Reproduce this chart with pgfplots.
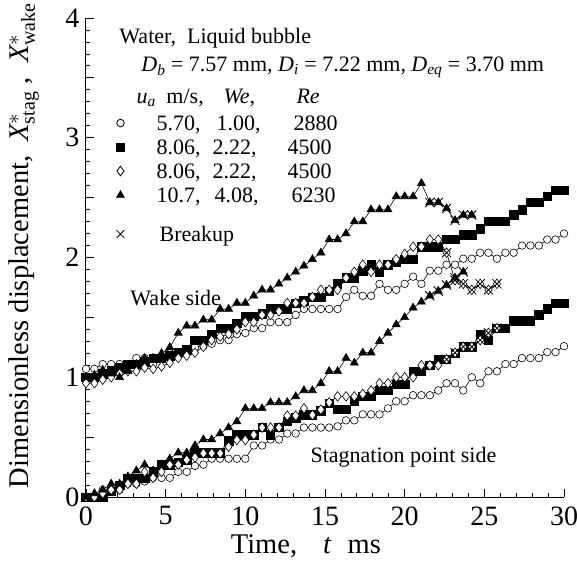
\documentclass[border=0pt]{standalone}
\usepackage{fontspec}
\setmainfont{Liberation Serif}
\usepackage{pgfplots}
\pgfplotsset{compat=1.18}
\usepackage{pgfplotstable}

% circles: u_a = 5.70 m/s
\pgfplotstableread{
t w s
0 1.07 0.00
0.53 1.07 0.00
1.05 1.11 0.06
1.58 1.11 0.06
2.11 1.11 0.06
2.63 1.11 0.11
3.16 1.16 0.11
3.68 1.16 0.13
4.21 1.11 0.16
4.74 1.16 0.16
5.26 1.20 0.16
5.79 1.20 0.21
6.32 1.21 0.21
6.84 1.25 0.26
7.37 1.26 0.27
7.89 1.28 0.32
8.42 1.31 0.32
8.95 1.31 0.32
9.47 1.36 0.32
10.00 1.37 0.32
10.53 1.41 0.43
11.05 1.41 0.43
11.58 1.46 0.48
12.11 1.46 0.48
12.63 1.46 0.53
13.16 1.52 0.53
13.68 1.57 0.58
14.21 1.57 0.58
14.74 1.57 0.58
15.26 1.57 0.58
15.79 1.57 0.59
16.32 1.67 0.64
16.84 1.73 0.64
17.37 1.68 0.69
17.89 1.68 0.69
18.42 1.78 0.69
18.95 1.73 0.74
19.47 1.73 0.80
20.00 1.78 0.80
20.53 1.84 0.85
21.05 1.78 0.85
21.58 1.89 0.85
22.11 1.89 0.89
22.63 1.94 0.95
23.16 1.94 0.95
23.68 1.99 0.89
24.21 1.99 1.00
24.74 2.04 0.95
25.26 2.04 1.05
25.79 1.99 1.05
26.32 2.04 1.11
26.84 2.04 1.11
27.37 2.10 1.16
27.89 2.10 1.16
28.42 2.10 1.16
28.95 2.15 1.21
29.47 2.15 1.21
30.00 2.20 1.26
}\tabA

% filled squares: u_a = 8.06 m/s
\pgfplotstableread{
t w s
0 1.00 0.00
0.53 1.00 0.00
1.05 1.03 0.00
1.58 1.055 0.05
2.11 1.08 0.10
2.63 1.11 0.156
3.16 1.11 0.156
3.68 1.13 0.156
4.21 1.16 0.21
4.74 1.16 0.27
5.26 1.18 0.27
5.79 1.21 0.29
6.32 1.23 0.31
6.84 1.31 0.37
7.37 1.31 0.37
7.89 1.36 0.37
8.42 1.41 0.37
8.95 1.41 0.47
9.47 1.45 0.52
10.00 1.51 0.52
10.53 1.51 0.52
11.05 1.53 0.58
11.58 1.57 0.52
12.11 1.57 0.58
12.63 1.57 0.63
13.16 1.62 0.66
13.68 1.64 0.685
14.21 1.67 0.685
14.74 1.67 0.72
15.26 1.72 0.78
15.79 1.78 0.73
16.32 1.83 0.73
16.84 1.83 0.80
17.37 1.89 0.84
17.89 1.94 0.84
18.42 1.88 0.89
18.95 1.94 0.89
19.47 1.96 0.94
20.00 1.985 0.94
20.53 1.985 1.05
21.05 2.09 1.05
21.58 2.09 1.10
22.11 2.09 1.15
22.63 2.15 1.15
23.16 2.15 1.20
23.68 2.19 1.255
24.21 2.19 1.255
24.74 2.24 1.36
25.26 2.30 1.31
25.79 2.30 1.41
26.32 2.30 1.41
26.84 2.355 1.47
27.37 2.40 1.47
27.89 2.46 1.47
28.42 2.46 1.52
28.95 2.51 1.57
29.47 2.56 1.62
30.00 2.56 1.62
}\tabB

% open diamonds: u_a = 8.06 m/s
\pgfplotstableread{
t w s
0 0.95 0.00
0.53 0.95 0.00
1.05 0.98 0.03
1.58 1.00 0.06
2.11 1.03 0.06
2.63 1.05 0.11
3.16 1.05 0.11
3.68 1.08 0.21
4.21 1.07 0.16
4.74 1.09 0.21
5.26 1.12 0.27
5.79 1.16 0.27
6.32 1.18 0.31
6.84 1.205 0.33
7.37 1.255 0.365
7.89 1.31 0.365
8.42 1.34 0.365
8.95 1.36 0.42
9.47 1.40 0.476
10.00 1.46 0.476
10.53 1.46 0.52
11.05 1.52 0.58
11.58 1.52 0.58
12.11 1.55 0.58
12.63 1.62 0.68
13.16 1.62 0.68
13.68 1.62 0.74
14.21 1.67 0.685
14.74 1.73 0.73
15.26 1.73 0.79
15.79 1.73 0.84
16.32 1.83 0.84
16.84 1.88 0.84
17.37 1.94 0.86
17.89 1.88 0.89
18.42 1.94 0.95
18.95 1.94 0.95
19.47 1.985 1.00
20.00 2.03 1.00
20.53 2.09 1.00
21.05 2.09 1.10
21.58 2.15 1.10
22.11 2.15 1.10
22.63 2.04 1.15
23.16 1.81 1.205
23.68 1.78 1.255
24.21 1.73 1.255
24.74 1.78 1.31
25.26 1.73 1.37
25.79 1.78 1.41
}\tabC

% filled triangles: u_a = 10.7 m/s
\pgfplotstableread{
t w s
0 1.00 0.00
0.53 1.02 0.03
1.05 1.06 0.06
1.58 1.03 0.11
2.11 1.00 0.11
2.63 1.05 0.17
3.16 1.11 0.22
3.68 1.16 0.27
4.21 1.16 0.22
4.74 1.20 0.27
5.26 1.25 0.32
5.79 1.37 0.37
6.32 1.43 0.37
6.84 1.43 0.43
7.37 1.48 0.48
7.89 1.48 0.48
8.42 1.57 0.53
8.95 1.57 0.58
9.47 1.62 0.63
10.00 1.62 0.74
10.53 1.68 0.74
11.05 1.73 0.74
11.58 1.73 0.79
12.11 1.78 0.79
12.63 1.83 0.79
13.16 1.88 0.84
13.68 1.93 0.89
14.21 1.985 0.89
14.74 2.04 0.95
15.26 2.15 1.05
15.79 2.15 1.05
16.32 2.20 1.16
16.84 2.30 1.12
17.37 2.30 1.205
17.89 2.40 1.205
18.42 2.40 1.30
18.95 2.40 1.37
19.47 2.51 1.44
20.00 2.51 1.50
20.53 2.51 1.58
21.05 2.62 1.63
21.58 2.46 1.68
22.11 2.46 1.72
22.63 2.41 1.77
23.16 2.31 1.83
23.68 2.355 1.88
24.21 2.355 nan
}\tabD

% breakup points
\pgfplotstableread{
t y
21.58 2.46
22.11 2.46
22.63 2.41
23.16 2.31
23.68 2.355
24.21 2.355
21.58 1.68
22.11 1.72
22.63 1.77
23.16 1.83
23.68 1.88
22.63 2.04
23.16 1.81
23.68 1.78
24.21 1.73
24.74 1.78
25.26 1.73
25.79 1.78
22.63 1.15
23.16 1.205
23.68 1.255
24.21 1.255
24.74 1.31
25.26 1.37
25.79 1.41
}\tabX

\pgfplotsset{
  single mark legend/.style={legend image code/.code={\draw[##1] plot coordinates {(0pt,0pt)};}},
  ser/.style={black, line width=0.6pt, mark options={solid, line width=0.8pt}},
}

\begin{document}
\begin{tikzpicture}
\begin{axis}[
  scale only axis, width=478pt, height=479pt,
  xmin=0, xmax=30, ymin=0, ymax=4,
  axis lines=left,
  axis line style={line width=1pt, -},
  xtick={0,5,10,15,20,25,30}, minor x tick num=4,
  ytick={0,0.5,1,1.5,2,2.5,3,3.5,4}, yticklabels={0,,1,,2,,3,,4}, minor y tick num=4,
  tick align=inside, major tick length=8pt, minor tick length=4pt,
  tick style={black, line width=0.8pt},
  ticklabel style={font=\fontsize{28}{28}\selectfont},
  xticklabel style={yshift=-6pt, text depth=0pt},
  yticklabel style={xshift=-3pt},
  /pgf/number format/assume math mode=true,
  xlabel={Time,\hspace{26pt}\textit{t}\hspace{16pt}ms},
  ylabel={Dimensionless displacement,\ \ $\mathit{X}^{*}_{\mathrm{stag}}$ ,\ \ $\mathit{X}^{*}_{\mathrm{wake}}$},
  label style={font=\fontsize{28.5}{30}\selectfont},
  xlabel style={at={(axis description cs:0.46,-0.103)}, anchor=center},
  ylabel style={at={(axis description cs:-0.13,0.525)}, anchor=center},
  clip=false,
  unbounded coords=jump,
  legend style={at={(axis cs:1.90,3.223)}, anchor=north west, draw=none, fill=none,
    inner sep=0pt, outer sep=0pt, row sep=0pt, column sep=19pt,
    font=\fontsize{22}{24}\selectfont,
    nodes={inner sep=0pt, text height=19pt, text depth=5pt}},
  legend cell align=left,
]
% circles
\addplot[ser, mark=*, mark size=3.8pt, mark options={fill=white}, forget plot] table[x=t,y=w] {\tabA};
\addplot[ser, mark=*, mark size=3.8pt, mark options={fill=white}, forget plot] table[x=t,y=s] {\tabA};
% squares
\addplot[ser, mark=square*, mark size=4.2pt, mark options={fill=black}, forget plot] table[x=t,y=w] {\tabB};
\addplot[ser, mark=square*, mark size=4.2pt, mark options={fill=black}, forget plot] table[x=t,y=s] {\tabB};
% diamonds
\addplot[ser, mark=diamond*, mark size=4.8pt, mark options={fill=white}, forget plot] table[x=t,y=w] {\tabC};
\addplot[ser, mark=diamond*, mark size=4.8pt, mark options={fill=white}, forget plot] table[x=t,y=s] {\tabC};
% triangles
\addplot[ser, mark=triangle*, mark size=4.6pt, mark options={fill=black}, forget plot] table[x=t,y=w] {\tabD};
\addplot[ser, mark=triangle*, mark size=4.6pt, mark options={fill=black}, forget plot] table[x=t,y=s] {\tabD};
% breakup
\addplot[only marks, mark=x, mark size=6.5pt, mark options={black, line width=0.8pt}, forget plot] table[x=t,y=y] {\tabX};

% legend
\addlegendimage{single mark legend, only marks, mark=*, mark size=3.8pt, mark options={fill=white, line width=0.8pt}}
\addlegendentry{\makebox[57pt][r]{5.70,}\makebox[60pt][r]{1.00,}\makebox[77pt][r]{2880}}
\addlegendimage{single mark legend, only marks, mark=square*, mark size=4.2pt, mark options={fill=black}}
\addlegendentry{\makebox[57pt][r]{8.06,}\makebox[56pt][r]{2.22,}\makebox[75pt][r]{4500}}
\addlegendimage{single mark legend, only marks, mark=diamond*, mark size=4.8pt, mark options={fill=white, line width=0.8pt}}
\addlegendentry{\makebox[57pt][r]{8.06,}\makebox[56pt][r]{2.22,}\makebox[75pt][r]{4500}}
\addlegendimage{single mark legend, only marks, mark=triangle*, mark size=4.6pt, mark options={fill=black}}
\addlegendentry{\makebox[57pt][r]{10.7,}\makebox[58pt][r]{4.08,}\makebox[77pt][r]{6230}}
\addlegendimage{empty legend}
\addlegendentry[text height=15pt, text depth=0pt]{}
\addlegendimage{single mark legend, only marks, mark=x, mark size=5.5pt, mark options={black, line width=0.8pt}}
\addlegendentry{\hspace*{16pt}Breakup}

% header texts
\node[anchor=base west, font=\fontsize{22}{24}\selectfont] at (axis cs:1.88,3.79) {Water,\ \ Liquid bubble};
\node[anchor=base west, font=\fontsize{22}{24}\selectfont] at (axis cs:3.26,3.55) {\textit{D}\textsubscript{\textit{b}} = 7.57 mm, \textit{D}\textsubscript{\textit{i}} = 7.22 mm, \textit{D}\textsubscript{\textit{eq}} = 3.70 mm};
\node[anchor=base west, font=\fontsize{22}{24}\selectfont] at (axis cs:2.95,3.29) {\textit{u}\textsubscript{\textit{a}}};
\node[anchor=base west, font=\fontsize{22}{24}\selectfont] at (axis cs:4.83,3.29) {m/s,};
\node[anchor=base west, font=\fontsize{22}{24}\selectfont] at (axis cs:8.41,3.29) {\textit{We},};
\node[anchor=base west, font=\fontsize{22}{24}\selectfont] at (axis cs:12.99,3.29) {\textit{Re}};
% side annotations
\node[anchor=base west, font=\fontsize{22}{24}\selectfont] at (axis cs:2.57,1.60) {Wake side};
\node[anchor=base west, font=\fontsize{22}{24}\selectfont] at (axis cs:13.87,0.284) {Stagnation point side};
\end{axis}
\pgfresetboundingbox
\path[use as bounding box] ([shift={(-86pt,-65pt)}]current axis.south west) rectangle ([shift={(13pt,18pt)}]current axis.north east);
\end{tikzpicture}
\end{document}
